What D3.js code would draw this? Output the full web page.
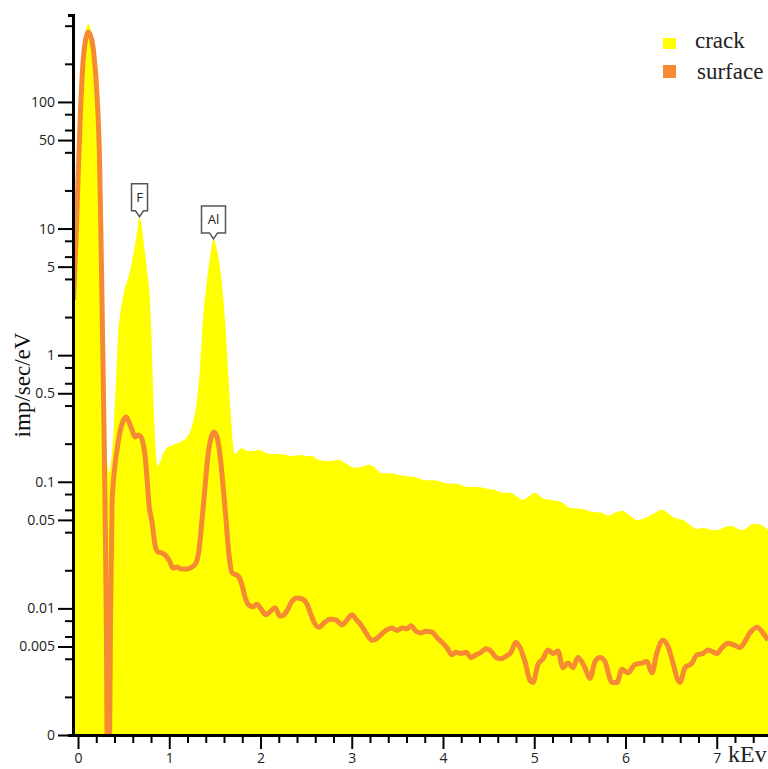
<!DOCTYPE html>
<html>
<head>
<meta charset="utf-8">
<script src="https://cdn.jsdelivr.net/npm/d3@7"></script>
<style>
  html, body { margin: 0; padding: 0; background: #fff; }
  svg { display: block; }
  .tick text { font-family: "Open Sans", "Noto Sans", sans-serif; font-size: 14px; fill: #222; }
</style>
</head>
<body>
<svg id="chart" width="768" height="769"></svg>
<script>
// EDS spectrum: crack vs surface, log intensity (bottom "0" sits at 0.001)

// --- data ---------------------------------------------------------------
const crackKeV = [-0.049, -0.022, 0, 0.022, 0.055, 0.088, 0.110, 0.132, 0.164, 0.197,
  0.230, 0.252, 0.274, 0.296, 0.318, 0.340, 0.362, 0.384, 0.405, 0.422,
  0.438, 0.460, 0.482, 0.515, 0.548, 0.581, 0.614, 0.647, 0.674, 0.701,
  0.723, 0.756, 0.789, 0.811, 0.827, 0.844, 0.871, 0.899, 0.932, 0.975,
  1.041, 1.118, 1.184, 1.227, 1.260, 1.304, 1.337, 1.370, 1.414, 1.447,
  1.485, 1.523, 1.567, 1.611, 1.644, 1.677, 1.699, 1.721, 1.753, 1.797,
  1.852, 1.907, 1.995, 2.060, 2.126, 2.214, 2.279, 2.345, 2.433, 2.510,
  2.564, 2.630, 2.707, 2.784, 2.849, 2.926, 3.003, 3.068, 3.134, 3.189,
  3.255, 3.331, 3.441, 3.518, 3.584, 3.693, 3.803, 3.912, 4.022, 4.164,
  4.274, 4.384, 4.460, 4.570, 4.647, 4.734, 4.811, 4.877, 4.942, 5.008,
  5.063, 5.118, 5.249, 5.315, 5.392, 5.523, 5.633, 5.742, 5.808, 5.885,
  5.962, 6.049, 6.126, 6.247, 6.323, 6.400, 6.488, 6.564, 6.630, 6.707,
  6.784, 6.849, 6.959, 7.014, 7.090, 7.167, 7.233, 7.288, 7.342, 7.386,
  7.452, 7.507, 7.562];
const crackCps = [5.65, 16.8, 34.8, 94.7, 235, 370, 413, 391, 282, 136,
  34.8, 6.78, 1.32, 0.308, 0.149, 0.119, 0.143, 0.214, 0.443, 0.764,
  1.39, 2.08, 2.58, 3.40, 4.00, 5.07, 6.78, 9.40, 12.4, 10.1,
  7.42, 4.71, 2.58, 1.04, 0.419, 0.226, 0.133, 0.143, 0.166, 0.185,
  0.195, 0.206, 0.222, 0.247, 0.296, 0.443, 0.793, 1.90, 3.93, 5.97,
  8.28, 6.78, 4.30, 1.90, 0.764, 0.319, 0.195, 0.166, 0.175, 0.185,
  0.175, 0.175, 0.178, 0.169, 0.166, 0.166, 0.163, 0.160, 0.163, 0.160,
  0.160, 0.149, 0.146, 0.146, 0.149, 0.141, 0.131, 0.129, 0.133, 0.136,
  0.129, 0.117, 0.117, 0.113, 0.111, 0.109, 0.103, 0.103, 0.098, 0.096,
  0.091, 0.091, 0.089, 0.086, 0.082, 0.082, 0.076, 0.072, 0.077, 0.082,
  0.077, 0.073, 0.0705, 0.068, 0.062, 0.061, 0.058, 0.057, 0.054, 0.057,
  0.059, 0.054, 0.050, 0.053, 0.057, 0.060, 0.0547, 0.051, 0.050, 0.0456,
  0.0424, 0.0432, 0.0416, 0.0416, 0.044, 0.0448, 0.0424, 0.0416, 0.044, 0.0465,
  0.0465, 0.0448, 0.0416];

const surfaceKeV = [-0.049, -0.022, 0, 0.027, 0.055, 0.082, 0.110, 0.142, 0.175, 0.208,
  0.236, 0.252, 0.268, 0.285, 0.301, 0.312, 0.323, 0.340, 0.356, 0.373,
  0.400, 0.427, 0.460, 0.493, 0.526, 0.559, 0.592, 0.625, 0.658, 0.690,
  0.712, 0.734, 0.756, 0.778, 0.811, 0.844, 0.877, 0.921, 0.975, 1.008,
  1.041, 1.085, 1.129, 1.195, 1.249, 1.293, 1.326, 1.359, 1.392, 1.425,
  1.458, 1.490, 1.523, 1.556, 1.589, 1.622, 1.655, 1.688, 1.732, 1.764,
  1.797, 1.830, 1.874, 1.918, 1.962, 2.005, 2.060, 2.104, 2.159, 2.214,
  2.258, 2.301, 2.345, 2.400, 2.455, 2.510, 2.542, 2.586, 2.641, 2.707,
  2.762, 2.827, 2.893, 2.948, 3.003, 3.047, 3.101, 3.156, 3.222, 3.277,
  3.320, 3.375, 3.441, 3.496, 3.551, 3.605, 3.649, 3.704, 3.759, 3.814,
  3.879, 3.934, 3.989, 4.044, 4.098, 4.142, 4.197, 4.252, 4.307, 4.362,
  4.416, 4.471, 4.526, 4.581, 4.636, 4.690, 4.745, 4.800, 4.844, 4.899,
  4.953, 4.986, 5.041, 5.096, 5.151, 5.205, 5.260, 5.315, 5.370, 5.425,
  5.479, 5.556, 5.611, 5.666, 5.721, 5.775, 5.852, 5.907, 5.962, 6.027,
  6.104, 6.181, 6.235, 6.290, 6.345, 6.411, 6.466, 6.521, 6.575, 6.597,
  6.652, 6.729, 6.784, 6.849, 6.904, 7.003, 7.058, 7.123, 7.200, 7.255,
  7.310, 7.364, 7.441, 7.507, 7.562];
const surfaceCps = [2.73, 8.13, 24.2, 83.4, 207, 309, 357, 326, 235, 114,
  34.8, 8.13, 1.58, 0.256, 0.0347, 0.0056, 0.0003, 0.0003, 0.0081, 0.068,
  0.124, 0.178, 0.247, 0.302, 0.325, 0.296, 0.256, 0.226, 0.234, 0.226,
  0.202, 0.163, 0.107, 0.0656, 0.048, 0.0317, 0.0279, 0.0274, 0.0255, 0.0233,
  0.0208, 0.0212, 0.0205, 0.0205, 0.0212, 0.0229, 0.0289, 0.050, 0.091, 0.163,
  0.222, 0.247, 0.226, 0.163, 0.0944, 0.050, 0.0264, 0.0191, 0.0184, 0.0177,
  0.0153, 0.0123, 0.0106, 0.0103, 0.0108, 0.0099, 0.0089, 0.0094, 0.0101, 0.0087,
  0.0089, 0.0099, 0.0114, 0.0121, 0.0119, 0.0108, 0.0094, 0.0078, 0.0071, 0.0078,
  0.0082, 0.0081, 0.0074, 0.0081, 0.0089, 0.0082, 0.0074, 0.0064, 0.0056, 0.0058,
  0.0062, 0.0067, 0.0070, 0.0067, 0.0070, 0.0069, 0.0073, 0.0066, 0.0064, 0.0066,
  0.0065, 0.0059, 0.0054, 0.0049, 0.0043, 0.0045, 0.0044, 0.0045, 0.0041, 0.0043,
  0.0045, 0.0048, 0.0046, 0.0041, 0.0040, 0.0042, 0.0045, 0.0054, 0.0049, 0.0038,
  0.0027, 0.0026, 0.0036, 0.0040, 0.0047, 0.0044, 0.0046, 0.0034, 0.0037, 0.0034,
  0.0041, 0.0034, 0.0028, 0.0038, 0.0041, 0.0038, 0.0026, 0.0026, 0.0033, 0.0031,
  0.0036, 0.0037, 0.0038, 0.0031, 0.0045, 0.0056, 0.0050, 0.0037, 0.0027, 0.0026,
  0.0034, 0.0037, 0.0043, 0.0044, 0.0047, 0.0044, 0.0049, 0.0053, 0.0051, 0.0049,
  0.0055, 0.0064, 0.0071, 0.0064, 0.0056];

// peak markers
const peakNames = ["F", "Al"];
const peakKeV = [0.674, 1.485];
const peakCps = [12.4, 8.28];

// axis ticks
const yMajorTicks = [100, 50, 10, 5, 1, 0.5, 0.1, 0.05, 0.01, 0.005, 0.001];
const yMajorLabels = ["100", "50", "10", "5", "1", "0.5", "0.1", "0.05", "0.01", "0.005", "0"];
const yMinorTicks = [400, 200, 80, 60, 40, 20, 8, 6, 4, 2, 0.8, 0.6, 0.4, 0.2,
  0.08, 0.06, 0.04, 0.02, 0.008, 0.006, 0.004, 0.002];
const xMajorTicks = [0, 1, 2, 3, 4, 5, 6, 7];
const xMinorTicks = [0.2, 0.4, 0.6, 0.8, 1.2, 1.4, 1.6, 1.8, 2.2, 2.4, 2.6, 2.8,
  3.2, 3.4, 3.6, 3.8, 4.2, 4.4, 4.6, 4.8, 5.2, 5.4, 5.6, 5.8, 6.2, 6.4, 6.6, 6.8, 7.2, 7.4];

const seriesNames = ["crack", "surface"];
const seriesColors = ["#ffff00", "#f58a32"];

// --- layout -------------------------------------------------------------
const svg = d3.select("#chart");
const plotLeft = 73, plotRight = 768, plotTop = 15, plotBottom = 735;

const x = d3.scaleLinear().domain([-0.055, 7.562]).range([plotLeft, plotRight]);
const y = d3.scaleLog().domain([0.001, 486]).range([plotBottom, plotTop]);

svg.append("defs").append("clipPath").attr("id", "plotclip")
  .append("rect").attr("x", plotLeft).attr("y", plotTop)
  .attr("width", plotRight - plotLeft).attr("height", plotBottom - plotTop);

const plot = svg.append("g").attr("clip-path", "url(#plotclip)");

const crack = crackKeV.map((k, i) => [k, crackCps[i]]);
const surface = surfaceKeV.map((k, i) => [k, surfaceCps[i]]);

const area = d3.area()
  .x(d => x(d[0]))
  .y0(plotBottom)
  .y1(d => y(d[1]))
  .curve(d3.curveMonotoneX);

const line = d3.line()
  .x(d => x(d[0]))
  .y(d => y(d[1]))
  .curve(d3.curveMonotoneX);

plot.append("path").datum(crack)
  .attr("d", area)
  .attr("fill", seriesColors[0]);

plot.append("path").datum(surface)
  .attr("d", line)
  .attr("fill", "none")
  .attr("stroke", seriesColors[1])
  .attr("stroke-width", 5)
  .attr("stroke-linejoin", "round");

// --- axes ---------------------------------------------------------------
const yAxis = d3.axisLeft(y)
  .tickValues(yMajorTicks)
  .tickFormat((d, i) => yMajorLabels[i])
  .tickSize(15)
  .tickSizeOuter(5)
  .tickPadding(3);

const yAxisG = svg.append("g").attr("transform", `translate(${plotLeft},0)`).call(yAxis);
yAxisG.selectAll(".tick line").attr("stroke-width", 2);

svg.append("g").attr("transform", `translate(${plotLeft},0)`)
  .call(d3.axisLeft(y).tickValues(yMinorTicks).tickFormat("").tickSize(8).tickSizeOuter(0))
  .call(g => g.select(".domain").remove())
  .selectAll(".tick line").attr("stroke-width", 2);

const xAxis = d3.axisBottom(x)
  .tickValues(xMajorTicks)
  .tickFormat(d3.format("d"))
  .tickSize(14)
  .tickSizeOuter(0)
  .tickPadding(4);

const xAxisG = svg.append("g").attr("transform", `translate(0,${plotBottom})`).call(xAxis);
xAxisG.selectAll(".tick line").attr("stroke-width", 2);

svg.append("g").attr("transform", `translate(0,${plotBottom})`)
  .call(d3.axisBottom(x).tickValues(xMinorTicks).tickFormat("").tickSize(8).tickSizeOuter(0))
  .call(g => g.select(".domain").remove())
  .selectAll(".tick line").attr("stroke-width", 2);

svg.selectAll(".domain").attr("stroke-width", 3);

// axis titles
svg.append("text")
  .attr("transform", `translate(30,385) rotate(-90)`)
  .attr("text-anchor", "middle")
  .attr("font-family", "'Liberation Serif', 'Times New Roman', serif")
  .attr("font-size", 23)
  .attr("fill", "#111")
  .text("imp/sec/eV");

svg.append("text")
  .attr("x", 728).attr("y", 762)
  .attr("font-family", "'Liberation Serif', 'Times New Roman', serif")
  .attr("font-size", 24)
  .attr("fill", "#222")
  .text("kEv");

// --- peak labels --------------------------------------------------------
peakNames.forEach((name, i) => {
  const px = x(peakKeV[i]);
  const py = y(peakCps[i]);
  const w = name.length > 1 ? 24 : 16;
  const h = 27;
  const bx = px - w / 2, by = py - 6 - h;
  const path = `M${bx},${by} H${bx + w} V${by + h} H${px + 4} L${px},${py} L${px - 4},${by + h} H${bx} Z`;
  svg.append("path").attr("d", path)
    .attr("fill", "#fff").attr("stroke", "#555").attr("stroke-width", 1.5);
  svg.append("text")
    .attr("x", px).attr("y", by + h / 2 + 5)
    .attr("text-anchor", "middle")
    .attr("font-family", "'Open Sans', 'Noto Sans', sans-serif")
    .attr("font-size", 13)
    .attr("fill", "#222")
    .text(name);
});

// --- legend -------------------------------------------------------------
const legend = svg.append("g");
seriesNames.forEach((name, i) => {
  const yy = 38 + i * 27;
  legend.append("rect")
    .attr("x", 663).attr("y", yy).attr("width", 13).attr("height", i ? 13 : 11)
    .attr("fill", seriesColors[i]);
  legend.append("text")
    .attr("x", 695 + i * 2).attr("y", yy + 10 + i * 4)
    .attr("font-family", "'Liberation Serif', 'Times New Roman', serif")
    .attr("font-size", 23)
    .attr("fill", "#222")
    .text(name);
});
</script>
</body>
</html>
